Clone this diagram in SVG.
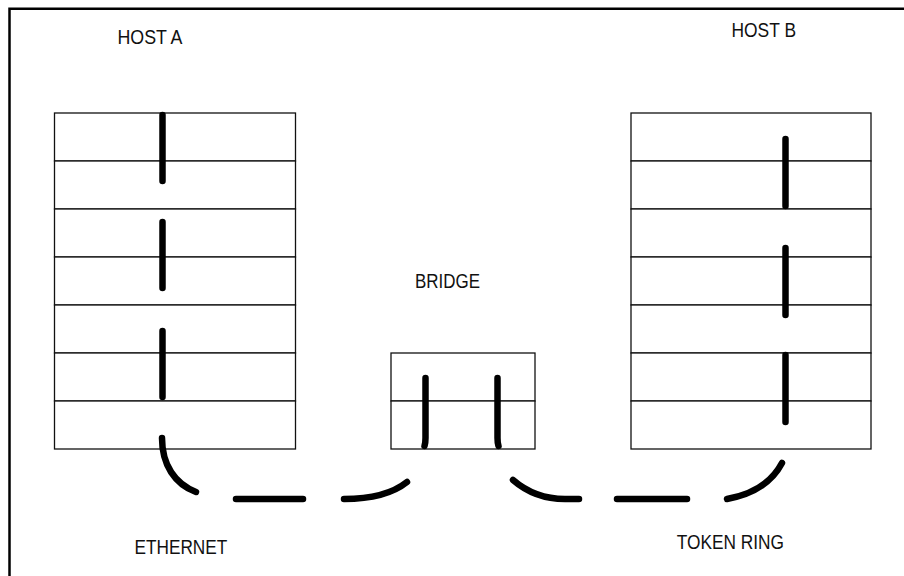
<svg xmlns="http://www.w3.org/2000/svg" width="904" height="576" viewBox="0 0 904 576">
<style>
.frame{fill:none;stroke:#000;stroke-width:2.5}
.row{fill:#fff;stroke:#111;stroke-width:1.3}
.bar{fill:none;stroke:#000;stroke-width:6.5;stroke-linecap:round;stroke-linejoin:round}
.lbl{font-family:"Liberation Sans",Arial,sans-serif;font-size:20px;fill:#111}
</style>
<rect width="904" height="576" fill="#fff"/>
<path class="frame" d="M9.5,580 V8.7 H910"/>
<g id="hostA">
<rect class="row" x="54.5" y="113" width="241" height="48"/>
<rect class="row" x="54.5" y="161" width="241" height="48"/>
<rect class="row" x="54.5" y="209" width="241" height="48"/>
<rect class="row" x="54.5" y="257" width="241" height="48"/>
<rect class="row" x="54.5" y="305" width="241" height="48"/>
<rect class="row" x="54.5" y="353" width="241" height="48"/>
<rect class="row" x="54.5" y="401" width="241" height="48"/>
<path class="bar" d="M162.5,115 V181"/>
<path class="bar" d="M162.5,222 V288"/>
<path class="bar" d="M162.5,331 V397"/>
<text class="lbl" x="117.5" y="44" textLength="65" lengthAdjust="spacingAndGlyphs">HOST A</text>
</g>
<g id="hostB">
<rect class="row" x="631" y="113" width="240" height="48"/>
<rect class="row" x="631" y="161" width="240" height="48"/>
<rect class="row" x="631" y="209" width="240" height="48"/>
<rect class="row" x="631" y="257" width="240" height="48"/>
<rect class="row" x="631" y="305" width="240" height="48"/>
<rect class="row" x="631" y="353" width="240" height="48"/>
<rect class="row" x="631" y="401" width="240" height="48"/>
<path class="bar" d="M785.5,139 V206"/>
<path class="bar" d="M785.5,248 V315"/>
<path class="bar" d="M785.5,355 V422"/>
<text class="lbl" x="731.5" y="36.5" textLength="64.5" lengthAdjust="spacingAndGlyphs">HOST B</text>
</g>
<g id="bridge">
<rect class="row" x="391" y="353" width="144" height="48"/>
<rect class="row" x="391" y="401" width="144" height="48"/>
<path class="bar" d="M425.5,378 V438 Q425.5,443 424.5,446"/>
<path class="bar" d="M497.5,378 V438 Q497.5,443 498.5,446"/>
<text class="lbl" x="415" y="288" textLength="65" lengthAdjust="spacingAndGlyphs">BRIDGE</text>
</g>
<g id="ethernet">
<text class="lbl" x="134.5" y="554.3" textLength="92.8" lengthAdjust="spacingAndGlyphs">ETHERNET</text>
</g>
<g id="tokenring">
<text class="lbl" x="676.7" y="549.3" textLength="107.3" lengthAdjust="spacingAndGlyphs">TOKEN RING</text>
</g>
<g id="connectors">
<path class="bar" d="M162,438 C162,465 175,484 196,492"/>
<path class="bar" d="M236,499 H303"/>
<path class="bar" d="M344,499 C370,499 392,494 407,482"/>
<path class="bar" d="M513,480 C528,493 545,499 565,499 H579"/>
<path class="bar" d="M617,499 H687"/>
<path class="bar" d="M727,499 C755,494 772,482 782,463"/>
</g>
</svg>
